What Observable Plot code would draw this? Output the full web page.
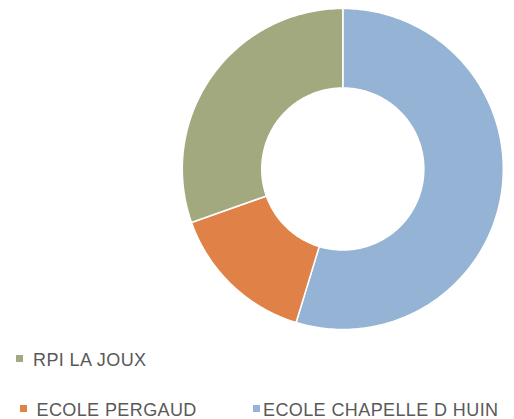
<!DOCTYPE html>
<html><head><meta charset="utf-8">
<script src="https://cdn.jsdelivr.net/npm/d3@7"></script>
<script src="https://cdn.jsdelivr.net/npm/@observablehq/plot@0.6"></script>
<style>
body{margin:0;background:#fff;}
#wrap{position:relative;width:514px;height:419px;overflow:hidden;font-family:"Liberation Sans",Arial,sans-serif;}
#wrap svg{position:absolute;left:0;top:0;}
.item{position:absolute;font-size:18px;color:#595959;letter-spacing:0.4px;white-space:nowrap;line-height:18px;}
.sw{position:absolute;width:7px;height:7px;}
</style></head><body><div id="wrap"></div>
<script>
// Data (slice order: clockwise from 12 o'clock)
const categories = ["ECOLE CHAPELLE D HUIN", "ECOLE PERGAUD", "RPI LA JOUX"];
const values = [54.7, 14.9, 30.4];
const colors = ["#95B3D4", "#E08248", "#A3A97E"];
const legendOrder = ["RPI LA JOUX", "ECOLE PERGAUD", "ECOLE CHAPELLE D HUIN"];

// Build slice polygons in unit coordinates from the values
const innerRatio = 0.505;
const total = d3.sum(values);
const pts = [];
let acc = 0;
categories.forEach((name, i) => {
  const a0 = acc / total * 2 * Math.PI;
  acc += values[i];
  const a1 = acc / total * 2 * Math.PI;
  const n = Math.max(4, Math.ceil((a1 - a0) / (Math.PI / 180)));
  for (let k = 0; k <= n; k++) {
    const a = a0 + (a1 - a0) * k / n;
    pts.push({name, x: Math.sin(a), y: Math.cos(a)});
  }
  for (let k = n; k >= 0; k--) {
    const a = a0 + (a1 - a0) * k / n;
    pts.push({name, x: innerRatio * Math.sin(a), y: innerRatio * Math.cos(a)});
  }
});

const chart = Plot.plot({
  width: 514,
  height: 335,
  marginLeft: 181.8,
  marginRight: 11.2,
  marginTop: 8,
  marginBottom: 6,
  x: {domain: [-1, 1], axis: null},
  y: {domain: [-1, 1], axis: null},
  color: {domain: categories, range: colors},
  marks: [
    Plot.line(pts, {x: "x", y: "y", z: "name", fill: "name", stroke: "white", strokeWidth: 1.5, curve: "linear-closed"})
  ]
});
const wrap = document.getElementById("wrap");
wrap.appendChild(chart);

// Legend (HTML, below/beside the SVG)
const layout = [
  {sx: 16, sy: 355, tx: 33, ty: 350.8},
  {sx: 20, sy: 405, tx: 36.5, ty: 400.8},
  {sx: 253, sy: 405, tx: 263, ty: 400.8}
];
legendOrder.forEach((name, i) => {
  const L = layout[i];
  const sw = document.createElement("div");
  sw.className = "sw";
  sw.style.left = L.sx + "px";
  sw.style.top = L.sy + "px";
  sw.style.background = colors[categories.indexOf(name)];
  wrap.appendChild(sw);
  const t = document.createElement("div");
  t.className = "item";
  t.style.left = L.tx + "px";
  t.style.top = L.ty + "px";
  t.textContent = name;
  wrap.appendChild(t);
});
</script>
</body></html>
